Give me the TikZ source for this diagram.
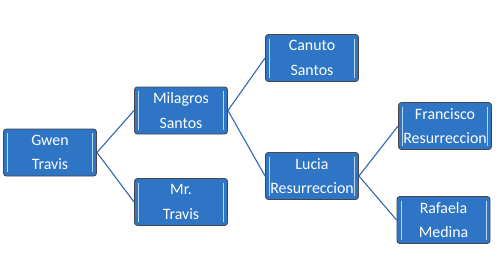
\documentclass[tikz,border=0pt]{standalone}
\usepackage{fontspec}
\setmainfont{Carlito}
\definecolor{boxblue}{RGB}{46,117,197}
\definecolor{boxedge}{RGB}{70,70,75}
\definecolor{linkblue}{RGB}{52,101,176}
\definecolor{sideline}{RGB}{190,215,240}
\tikzset{
  person/.style={draw=boxedge, line width=0.9pt, fill=boxblue, rounded corners=3pt,
    minimum width=93pt, minimum height=47pt, inner sep=0pt, align=center, text=white,
    font=\fontsize{15.9}{24.5}\selectfont,
    path picture={
      \draw[sideline, line width=1pt]
        ([xshift=4pt,yshift=-4pt]path picture bounding box.north west) --
        ([xshift=4pt,yshift=4pt]path picture bounding box.south west);
      \draw[sideline, line width=1pt]
        ([xshift=-4pt,yshift=-4pt]path picture bounding box.north east) --
        ([xshift=-4pt,yshift=4pt]path picture bounding box.south east);
    }},
  link/.style={linkblue, line width=1.1pt}
}
\begin{document}
\begin{tikzpicture}[x=1pt, y=-1pt]
    \useasboundingbox (0,0) rectangle (500,273);

    % Generation 1
    \node[person] (gwen) at (50,152.5) {Gwen\\Travis};

    % Generation 2
    \node[person] (milagros) at (181,110.5) {Milagros\\Santos};
    \node[person] (mrtravis) at (181,202) {Mr.\\Travis};

    % Generation 3
    \node[person] (canuto) at (312,58) {Canuto\\Santos};
    \node[person] (lucia) at (312,176) {Lucia\\Resurreccion};

    % Generation 4
    \node[person] (francisco) at (445,126) {Francisco\\Resurreccion};
    \node[person] (rafaela) at (443.5,220) {Rafaela\\Medina};

    % Verbindungen
    \draw[link] (gwen.east) -- (milagros.west);
    \draw[link] (gwen.east) -- (mrtravis.west);
    \draw[link] (milagros.east) -- (canuto.west);
    \draw[link] (milagros.east) -- (lucia.west);
    \draw[link] (lucia.east) -- (francisco.west);
    \draw[link] (lucia.east) -- (rafaela.west);
\end{tikzpicture}
\end{document}
